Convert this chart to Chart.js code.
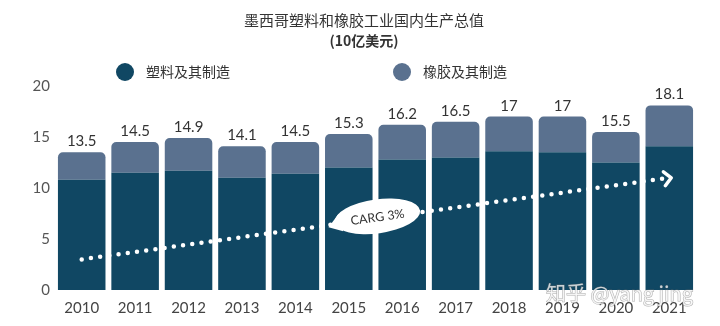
<!DOCTYPE html>
<html>
<head>
<meta charset="utf-8">
<script src="https://cdn.jsdelivr.net/npm/chart.js@4"></script>
<style>
  html, body { margin: 0; padding: 0; background: #fff; }
  #wrap { width: 720px; height: 326px; }
</style>
</head>
<body>
<div id="wrap"><canvas id="chart"></canvas></div>
<script>
// Chart data
const years = ["2010", "2011", "2012", "2013", "2014", "2015", "2016", "2017", "2018", "2019", "2020", "2021"];
const plastics = [10.8, 11.5, 11.7, 11.0, 11.4, 12.0, 12.8, 13.0, 13.6, 13.5, 12.5, 14.1];
const rubber = [2.7, 3.0, 3.2, 3.1, 3.1, 3.3, 3.4, 3.5, 3.4, 3.5, 3.0, 4.0];
const trend = [3.0, null, null, null, null, null, null, null, null, null, null, 11.0];
const yTicks = [0, 5, 10, 15, 20];
const seriesNames = ["塑料及其制造", "橡胶及其制造"];
const titleText = "墨西哥塑料和橡胶工业国内生产总值";
const unitText = "(10亿美元)";
const trendLabel = "CARG 3%";

const DARK = "#104763";
const LIGHT = "#5a718f";
const numFont = "Lato, 'Open Sans', sans-serif";
const cjkFont = "'Noto Sans CJK SC', sans-serif";

// Title, legend, totals, trend label, watermark
const decorations = {
    id: "decorations",
    afterDatasetsDraw(chart) {
        const ctx = chart.ctx;
        ctx.save();

        // title
        ctx.textAlign = "center";
        ctx.textBaseline = "middle";
        ctx.fillStyle = "#333";
        ctx.font = "15px " + cjkFont;
        ctx.fillText(titleText, 364, 20);
        ctx.font = "bold 14px " + cjkFont;
        ctx.fillText(unitText, 364, 41);

        // legend
        const legendX = [125, 402];
        [DARK, LIGHT].forEach((c, i) => {
            ctx.beginPath();
            ctx.arc(legendX[i], 72, 9, 0, Math.PI * 2);
            ctx.fillStyle = c;
            ctx.fill();
            ctx.fillStyle = "#333";
            ctx.textAlign = "left";
            ctx.font = "14px " + cjkFont;
            ctx.fillText(seriesNames[i], legendX[i] + 21, 72);
        });

        // totals above bars
        const top = chart.getDatasetMeta(1);
        ctx.font = "15px " + numFont;
        ctx.fillStyle = "#333";
        ctx.textAlign = "center";
        ctx.textBaseline = "alphabetic";
        top.data.forEach((bar, i) => {
            const total = parseFloat((plastics[i] + rubber[i]).toFixed(1));
            ctx.fillText(String(total), bar.x, bar.y - 6);
        });

        // trend arrow head and label
        const line = chart.getDatasetMeta(2).data;
        const p0 = line[0], p1 = line[line.length - 1];
        const ang = Math.atan2(p1.y - p0.y, p1.x - p0.x);
        ctx.save();
        ctx.translate(p1.x + 2, p1.y);
        ctx.rotate(ang);
        ctx.strokeStyle = "#fff";
        ctx.lineWidth = 3.5;
        ctx.lineCap = "round";
        ctx.lineJoin = "round";
        ctx.beginPath();
        ctx.moveTo(-7, -7);
        ctx.lineTo(0, 0);
        ctx.lineTo(-7, 7);
        ctx.stroke();
        ctx.restore();

        const t = 5.5 / 11;
        const cx = p0.x + (p1.x - p0.x) * t;
        const cy = p0.y + (p1.y - p0.y) * t - 2;
        ctx.save();
        ctx.translate(cx, cy);
        ctx.rotate(ang);
        ctx.fillStyle = "#fff";
        ctx.beginPath();
        ctx.ellipse(2, 0, 43, 17, 0, 0, Math.PI * 2);
        ctx.fill();
        ctx.beginPath();
        ctx.moveTo(-48, 4);
        ctx.lineTo(-36, -8);
        ctx.lineTo(-34, 10);
        ctx.closePath();
        ctx.fill();
        ctx.fillStyle = "#333";
        ctx.font = "12.5px " + numFont;
        ctx.textAlign = "center";
        ctx.textBaseline = "middle";
        ctx.fillText(trendLabel, 2, 1);
        ctx.restore();

        // watermark
        ctx.font = "20px " + cjkFont;
        ctx.textAlign = "left";
        ctx.textBaseline = "middle";
        ctx.lineWidth = 1;
        ctx.strokeStyle = "rgba(110,110,110,0.55)";
        ctx.fillStyle = "rgba(255,255,255,0.75)";
        ctx.strokeText("知乎 @yang jing", 546, 293);
        ctx.fillText("知乎 @yang jing", 546, 293);

        ctx.restore();
    },
};

const ctx = document.getElementById("chart").getContext("2d");
const chart = new Chart(ctx, {
    data: {
        labels: years,
        datasets: [
            {
                type: "bar",
                label: seriesNames[0],
                data: plastics,
                backgroundColor: DARK,
                stack: "total",
                order: 2,
                borderRadius: 0,
            },
            {
                type: "bar",
                label: seriesNames[1],
                data: rubber,
                backgroundColor: LIGHT,
                stack: "total",
                order: 2,
                borderSkipped: false,
                borderRadius: { topLeft: 5, topRight: 5, bottomLeft: 0, bottomRight: 0 },
            },
            {
                type: "line",
                label: "trend",
                data: trend,
                stack: "trend",
                order: 1,
                spanGaps: true,
                borderColor: "#fff",
                borderWidth: 4.5,
                borderDash: [0, 9.3],
                borderCapStyle: "round",
                pointRadius: 0,
                fill: false,
            },
        ],
    },
    options: {
        responsive: true,
        maintainAspectRatio: false,
        animation: false,
        layout: { padding: { top: 86, right: 24, bottom: 9, left: 0 } },
        datasets: {
            bar: { barPercentage: 0.89, categoryPercentage: 1 },
        },
        plugins: {
            legend: { display: false },
            title: { display: false },
            tooltip: { enabled: false },
        },
        scales: {
            x: {
                stacked: true,
                grid: { display: false, drawTicks: false },
                border: { display: false },
                afterFit(scale) { scale.height = 27; },
                ticks: {
                    padding: 9,
                    color: "#444",
                    font: { family: numFont, size: 15 },
                },
            },
            y: {
                stacked: true,
                min: 0,
                max: 20,
                grid: { display: false, drawTicks: false },
                border: { display: false },
                afterFit(scale) { scale.width = 55; },
                afterBuildTicks(scale) { scale.ticks = yTicks.map((v) => ({ value: v })); },
                ticks: {
                    padding: 5,
                    color: "#555",
                    font: { family: numFont, size: 15 },
                },
            },
        },
    },
    plugins: [decorations],
});
</script>
</body>
</html>
